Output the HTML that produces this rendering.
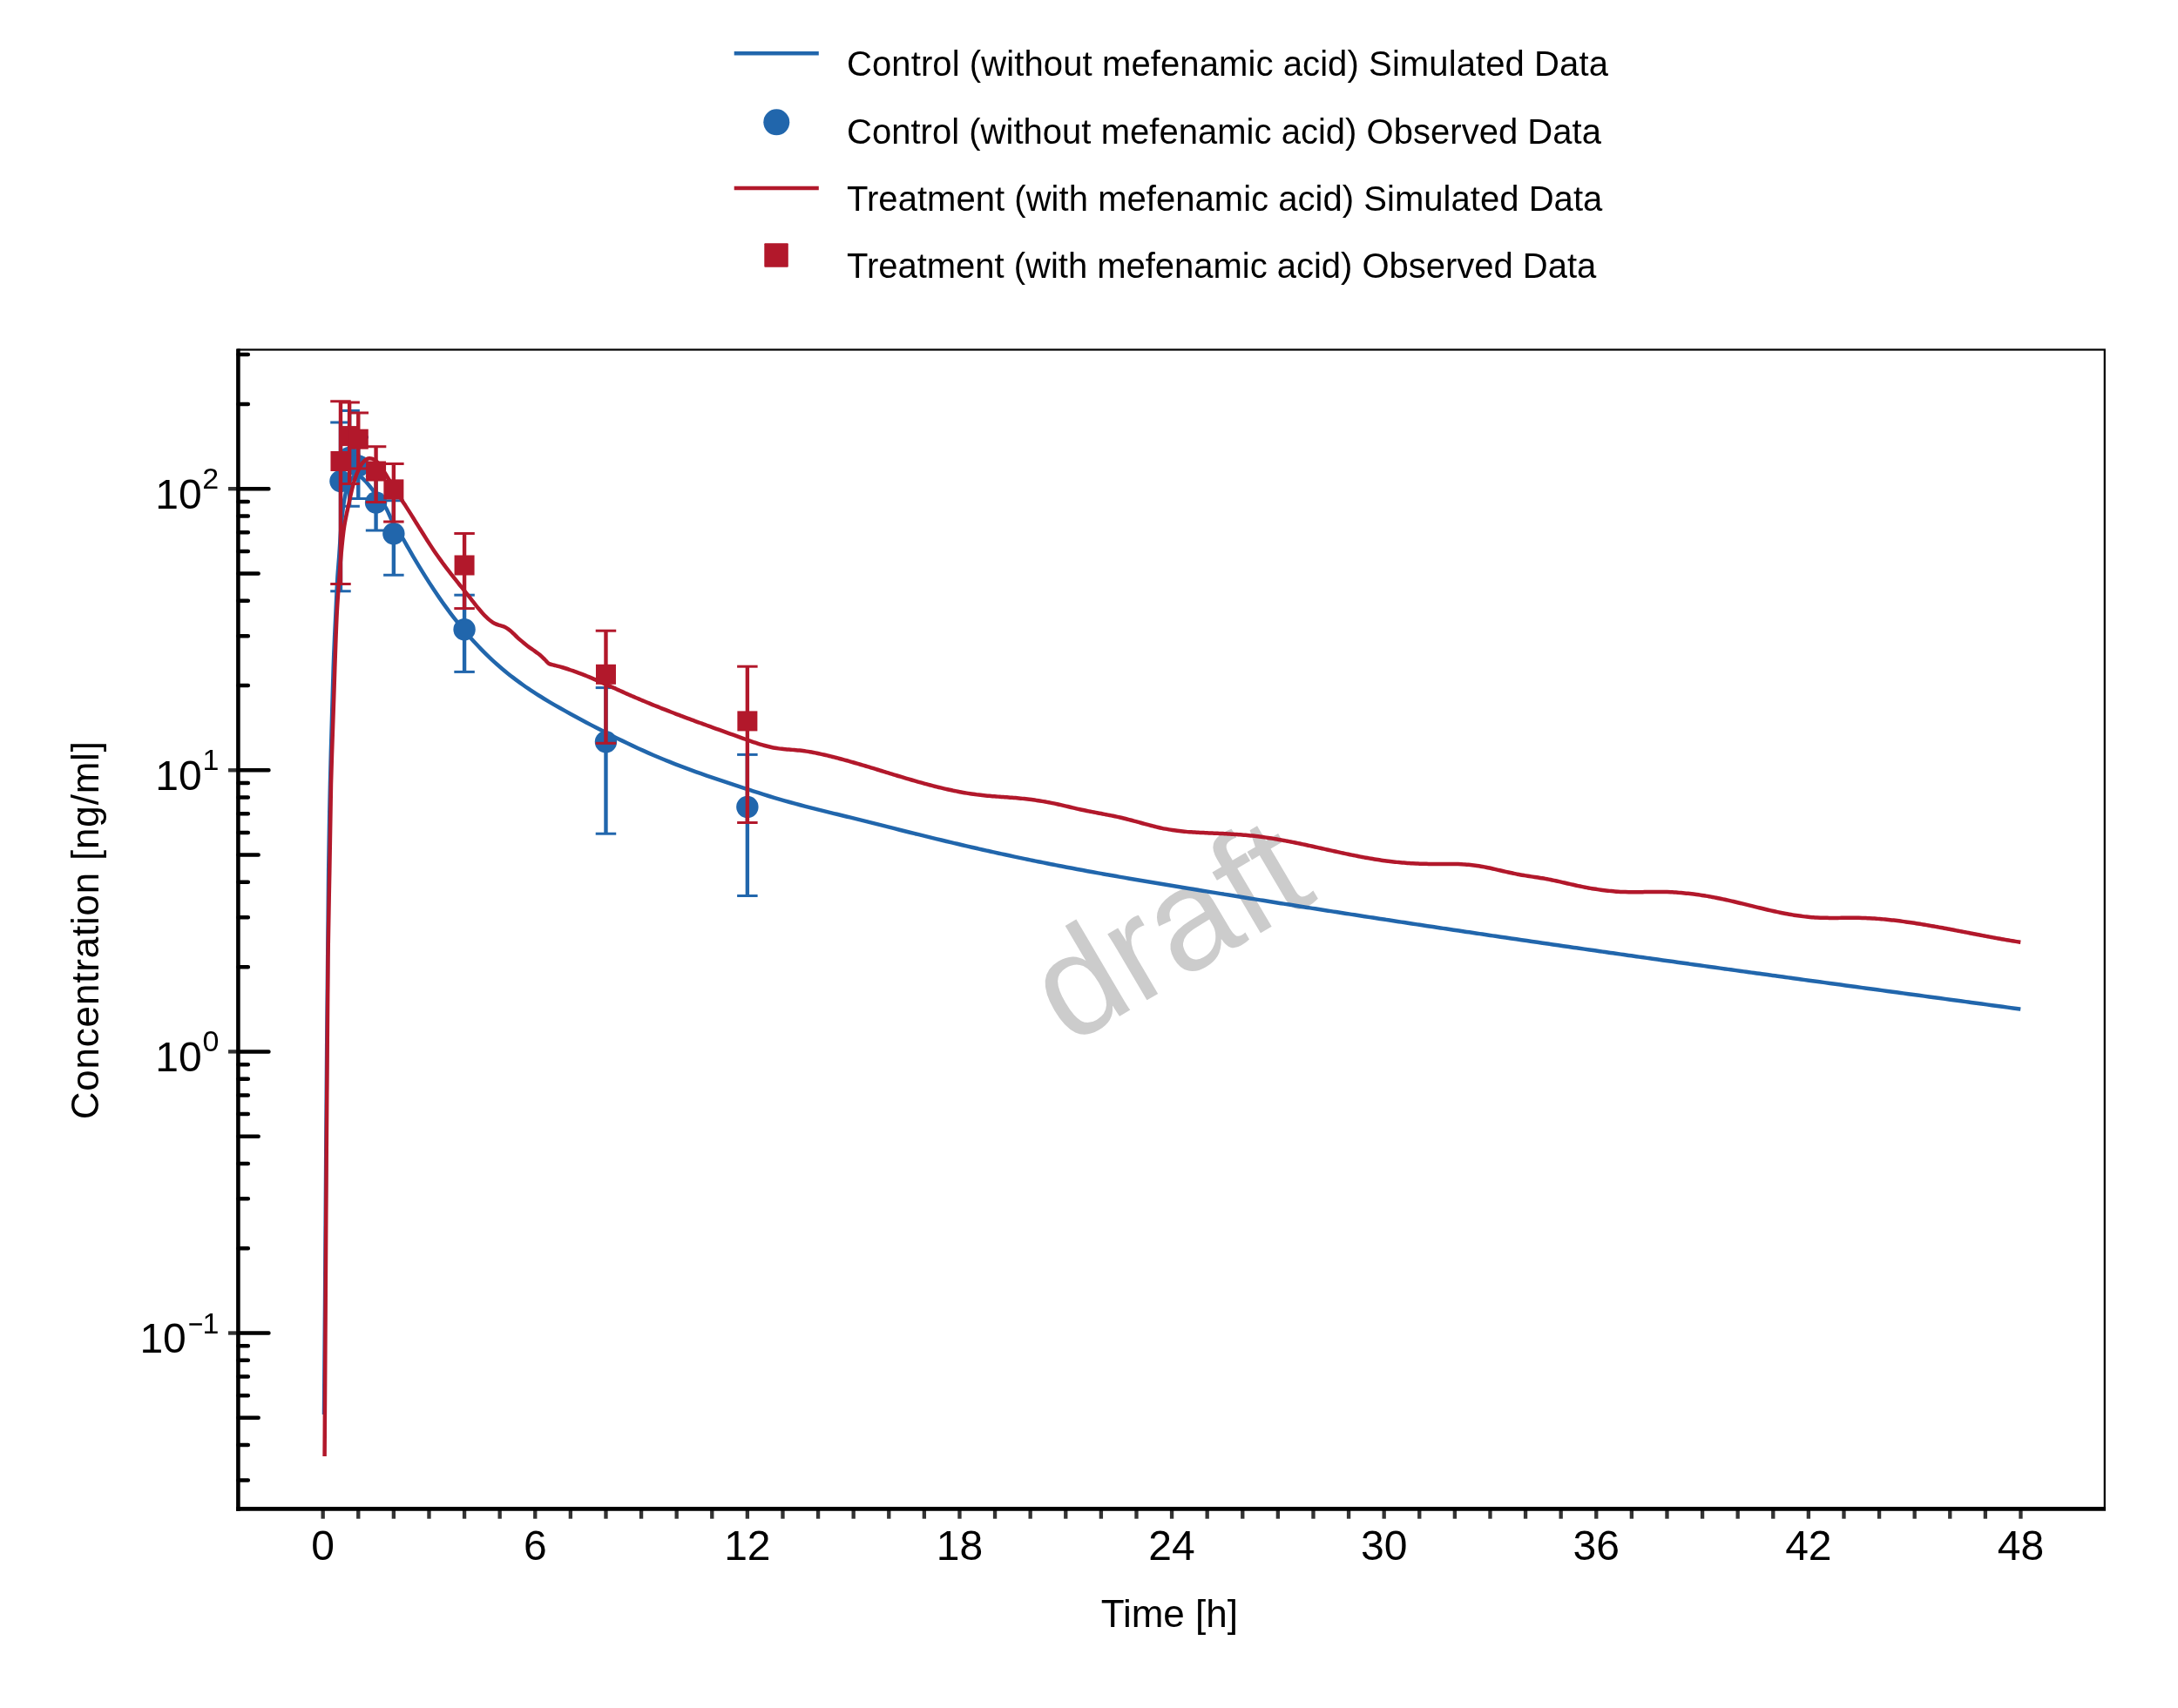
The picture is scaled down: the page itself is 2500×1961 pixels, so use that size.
<!DOCTYPE html><html><head><meta charset="utf-8"><title>Concentration-time profile</title><style>html,body{margin:0;padding:0;background:#fff;overflow:hidden}svg{display:block;will-change:transform}</style></head><body>
<svg xmlns="http://www.w3.org/2000/svg" width="2500" height="1961" viewBox="0 0 2500 1961" font-family="'Liberation Sans', sans-serif">
<rect width="2500" height="1961" fill="#fff"/>
<line x1="842.7" y1="61.3" x2="939.8" y2="61.3" stroke="#2166AC" stroke-width="4.6"/>
<circle cx="891.3" cy="140.3" r="15" fill="#2166AC"/>
<line x1="842.7" y1="216" x2="939.8" y2="216" stroke="#B2182B" stroke-width="4.6"/>
<rect x="877.3" y="279.2" width="27.5" height="27.5" rx="1" fill="#B2182B"/>
<g font-size="40" fill="#000">
<text x="972" y="86.90" textLength="873.9" lengthAdjust="spacing">Control (without mefenamic acid) Simulated Data</text>
<text x="972" y="165.00" textLength="865.9" lengthAdjust="spacing">Control (without mefenamic acid) Observed Data</text>
<text x="972" y="241.80" textLength="867.3" lengthAdjust="spacing">Treatment (with mefenamic acid) Simulated Data</text>
<text x="972" y="318.85" textLength="860.3" lengthAdjust="spacing">Treatment (with mefenamic acid) Observed Data</text>
</g>
<text x="1226.4" y="1201.3" transform="rotate(-30.5 1226.4 1201.3)" font-size="167" fill="#cccccc">draft</text>
<rect x="273.4" y="401.5" width="2142.40" height="1330.90" fill="none" stroke="#000" stroke-width="2.2"/>
<rect x="368.50" y="1732.4" width="4.34" height="11.3" fill="#333333"/>
<rect x="409.10" y="1732.4" width="4.34" height="11.3" fill="#333333"/>
<rect x="449.70" y="1732.4" width="4.34" height="11.3" fill="#333333"/>
<rect x="490.30" y="1732.4" width="4.34" height="11.3" fill="#333333"/>
<rect x="530.90" y="1732.4" width="4.34" height="11.3" fill="#333333"/>
<rect x="571.50" y="1732.4" width="4.34" height="11.3" fill="#333333"/>
<rect x="612.10" y="1732.4" width="4.34" height="11.3" fill="#333333"/>
<rect x="652.70" y="1732.4" width="4.34" height="11.3" fill="#333333"/>
<rect x="693.30" y="1732.4" width="4.34" height="11.3" fill="#333333"/>
<rect x="733.90" y="1732.4" width="4.34" height="11.3" fill="#333333"/>
<rect x="774.50" y="1732.4" width="4.34" height="11.3" fill="#333333"/>
<rect x="815.10" y="1732.4" width="4.34" height="11.3" fill="#333333"/>
<rect x="855.70" y="1732.4" width="4.34" height="11.3" fill="#333333"/>
<rect x="896.30" y="1732.4" width="4.34" height="11.3" fill="#333333"/>
<rect x="936.90" y="1732.4" width="4.34" height="11.3" fill="#333333"/>
<rect x="977.50" y="1732.4" width="4.34" height="11.3" fill="#333333"/>
<rect x="1018.10" y="1732.4" width="4.34" height="11.3" fill="#333333"/>
<rect x="1058.70" y="1732.4" width="4.34" height="11.3" fill="#333333"/>
<rect x="1099.30" y="1732.4" width="4.34" height="11.3" fill="#333333"/>
<rect x="1139.90" y="1732.4" width="4.34" height="11.3" fill="#333333"/>
<rect x="1180.50" y="1732.4" width="4.34" height="11.3" fill="#333333"/>
<rect x="1221.10" y="1732.4" width="4.34" height="11.3" fill="#333333"/>
<rect x="1261.70" y="1732.4" width="4.34" height="11.3" fill="#333333"/>
<rect x="1302.30" y="1732.4" width="4.34" height="11.3" fill="#333333"/>
<rect x="1342.90" y="1732.4" width="4.34" height="11.3" fill="#333333"/>
<rect x="1383.50" y="1732.4" width="4.34" height="11.3" fill="#333333"/>
<rect x="1424.10" y="1732.4" width="4.34" height="11.3" fill="#333333"/>
<rect x="1464.70" y="1732.4" width="4.34" height="11.3" fill="#333333"/>
<rect x="1505.30" y="1732.4" width="4.34" height="11.3" fill="#333333"/>
<rect x="1545.90" y="1732.4" width="4.34" height="11.3" fill="#333333"/>
<rect x="1586.50" y="1732.4" width="4.34" height="11.3" fill="#333333"/>
<rect x="1627.10" y="1732.4" width="4.34" height="11.3" fill="#333333"/>
<rect x="1667.70" y="1732.4" width="4.34" height="11.3" fill="#333333"/>
<rect x="1708.30" y="1732.4" width="4.34" height="11.3" fill="#333333"/>
<rect x="1748.90" y="1732.4" width="4.34" height="11.3" fill="#333333"/>
<rect x="1789.50" y="1732.4" width="4.34" height="11.3" fill="#333333"/>
<rect x="1830.10" y="1732.4" width="4.34" height="11.3" fill="#333333"/>
<rect x="1870.70" y="1732.4" width="4.34" height="11.3" fill="#333333"/>
<rect x="1911.30" y="1732.4" width="4.34" height="11.3" fill="#333333"/>
<rect x="1951.90" y="1732.4" width="4.34" height="11.3" fill="#333333"/>
<rect x="1992.50" y="1732.4" width="4.34" height="11.3" fill="#333333"/>
<rect x="2033.10" y="1732.4" width="4.34" height="11.3" fill="#333333"/>
<rect x="2073.70" y="1732.4" width="4.34" height="11.3" fill="#333333"/>
<rect x="2114.30" y="1732.4" width="4.34" height="11.3" fill="#333333"/>
<rect x="2154.90" y="1732.4" width="4.34" height="11.3" fill="#333333"/>
<rect x="2195.50" y="1732.4" width="4.34" height="11.3" fill="#333333"/>
<rect x="2236.10" y="1732.4" width="4.34" height="11.3" fill="#333333"/>
<rect x="2276.70" y="1732.4" width="4.34" height="11.3" fill="#333333"/>
<rect x="2317.30" y="1732.4" width="4.34" height="11.3" fill="#333333"/>
<rect x="262" y="1528.33" width="11.4" height="4.34" fill="#333333"/>
<rect x="262" y="1205.23" width="11.4" height="4.34" fill="#333333"/>
<rect x="262" y="882.13" width="11.4" height="4.34" fill="#333333"/>
<rect x="262" y="559.03" width="11.4" height="4.34" fill="#333333"/>
<path d="M273.4,1699.44H284.85M273.4,1659.07H284.85M273.4,1627.76H296.65M273.4,1602.18H284.85M273.4,1580.55H284.85M273.4,1561.81H284.85M273.4,1545.28H284.85M273.4,1530.50H308.45M273.4,1433.24H284.85M273.4,1376.34H284.85M273.4,1335.97H284.85M273.4,1304.66H296.65M273.4,1279.08H284.85M273.4,1257.45H284.85M273.4,1238.71H284.85M273.4,1222.18H284.85M273.4,1207.40H308.45M273.4,1110.14H284.85M273.4,1053.24H284.85M273.4,1012.87H284.85M273.4,981.56H296.65M273.4,955.98H284.85M273.4,934.35H284.85M273.4,915.61H284.85M273.4,899.08H284.85M273.4,884.30H308.45M273.4,787.04H284.85M273.4,730.14H284.85M273.4,689.77H284.85M273.4,658.46H296.65M273.4,632.88H284.85M273.4,611.25H284.85M273.4,592.51H284.85M273.4,575.98H284.85M273.4,561.20H308.45M273.4,463.94H284.85M273.4,407.04H284.85" stroke="#000" stroke-width="4.5" stroke-linecap="round" fill="none"/>
<line x1="273.4" y1="400.4" x2="273.4" y2="1734.7" stroke="#000" stroke-width="4.6"/>
<line x1="271.1" y1="1732.4" x2="2417" y2="1732.4" stroke="#000" stroke-width="4.6"/>
<g font-size="48" fill="#000" text-anchor="middle">
<text x="370.67" y="1791">0</text>
<text x="614.27" y="1791">6</text>
<text x="857.87" y="1791">12</text>
<text x="1101.47" y="1791">18</text>
<text x="1345.07" y="1791">24</text>
<text x="1588.67" y="1791">30</text>
<text x="1832.27" y="1791">36</text>
<text x="2075.87" y="1791">42</text>
<text x="2319.47" y="1791">48</text>
</g>
<g font-size="48" fill="#000">
<text x="178.2" y="583.70">10</text>
<text x="178.2" y="906.80">10</text>
<text x="178.2" y="1229.90">10</text>
<text x="160.4" y="1553.00">10</text>
</g>
<g font-size="34" fill="#000">
<text x="232.2" y="561.20">2</text>
<text x="232.5" y="884.30">1</text>
<text x="232.6" y="1207.40">0</text>
<text x="232.5" y="1530.50">1</text>
<rect x="217.3" y="1519.25" width="14.6" height="2.5"/>
</g>
<text x="1342.3" y="1868" font-size="44" text-anchor="middle" fill="#000">Time [h]</text>
<text transform="translate(112.8 1067.8) rotate(-90)" x="0" y="0" font-size="44" letter-spacing="0.8" text-anchor="middle" fill="#000">Concentration [ng/ml]</text>
<defs><clipPath id="cp"><rect x="273.4" y="401.5" width="2142.4" height="1330.9"/></clipPath></defs>
<g clip-path="url(#cp)">
<path d="M372.00,1624.00 C372.33,1582.67 372.61,1550.32 373.00,1500.00 C373.60,1421.74 374.43,1289.90 375.20,1200.00 C375.83,1126.60 376.38,1055.23 377.15,1000.00 C377.69,960.95 378.19,933.33 378.95,900.00 C379.71,866.66 380.89,827.45 381.70,800.00 C382.27,780.78 382.61,767.41 383.25,751.00 C383.89,734.42 384.81,716.63 385.55,701.00 C386.20,687.19 386.75,673.15 387.45,662.00 C387.98,653.62 388.52,648.42 389.15,640.00 C389.99,628.65 390.88,611.76 392.00,600.00 C392.89,590.68 393.67,582.50 395.00,575.00 C396.11,568.75 397.19,562.67 399.00,558.00 C400.39,554.41 402.02,551.05 404.00,549.00 C405.49,547.46 407.28,546.21 409.00,546.00 C410.62,545.80 412.36,546.57 414.00,547.50 C416.05,548.66 417.92,550.80 420.00,553.00 C422.64,555.80 425.56,559.95 428.30,563.20 C430.89,566.27 433.57,568.73 436.00,572.00 C438.67,575.60 441.06,579.51 443.50,584.00 C446.39,589.32 448.71,596.25 451.90,602.00 C455.05,607.69 459.53,613.43 462.50,618.34 C464.85,622.22 466.49,625.46 468.50,628.98 C470.49,632.46 472.49,635.91 474.50,639.33 C476.49,642.72 478.49,646.08 480.50,649.40 C482.49,652.69 484.49,655.95 486.50,659.18 C488.49,662.37 490.49,665.53 492.50,668.65 C494.49,671.74 496.49,674.79 498.50,677.81 C500.49,680.79 502.49,683.73 504.50,686.64 C506.49,689.51 508.49,692.35 510.50,695.15 C512.49,697.91 514.49,700.63 516.50,703.32 C518.49,705.97 520.49,708.58 522.50,711.15 C524.49,713.69 526.49,716.20 528.50,718.66 C530.49,721.10 532.49,723.49 534.50,725.85 C536.49,728.18 538.49,730.48 540.50,732.73 C542.49,734.96 544.49,737.15 546.50,739.31 C548.49,741.44 550.49,743.53 552.50,745.59 C554.49,747.62 556.49,749.62 558.50,751.58 C560.49,753.52 562.49,755.42 564.50,757.29 C566.49,759.14 568.49,760.95 570.50,762.74 C572.49,764.50 574.49,766.23 576.50,767.93 C578.49,769.61 580.49,771.26 582.50,772.88 C584.49,774.49 586.49,776.07 588.50,777.62 C590.49,779.16 592.49,780.66 594.50,782.15 C596.49,783.62 598.49,785.06 600.50,786.48 C602.49,787.90 604.49,789.28 606.50,790.65 C608.49,792.00 610.49,793.33 612.50,794.65 C614.49,795.95 616.50,797.24 618.50,798.50 C620.50,799.77 622.50,801.01 624.50,802.23 C626.50,803.45 628.50,804.66 630.50,805.85 C632.50,807.03 634.50,808.20 636.50,809.36 C638.50,810.52 640.50,811.66 642.50,812.79 C644.50,813.92 646.50,815.04 648.50,816.15 C650.50,817.26 652.50,818.36 654.50,819.46 C656.50,820.56 658.50,821.65 660.50,822.73 C662.50,823.82 664.50,824.90 666.50,825.98 C668.50,827.05 670.50,828.12 672.50,829.19 C674.50,830.25 676.50,831.31 678.50,832.37 C680.50,833.42 682.50,834.47 684.50,835.51 C686.50,836.56 688.50,837.59 690.50,838.62 C692.50,839.65 694.50,840.68 696.50,841.69 C698.50,842.71 700.50,843.72 702.50,844.72 C704.50,845.72 706.50,846.72 708.50,847.70 C710.50,848.69 712.50,849.67 714.50,850.64 C716.50,851.62 718.50,852.58 720.50,853.54 C722.50,854.49 724.50,855.44 726.50,856.38 C728.50,857.32 730.50,858.25 732.50,859.17 C734.50,860.09 736.50,861.00 738.50,861.90 C740.50,862.81 742.50,863.70 744.50,864.58 C746.50,865.47 748.50,866.34 750.50,867.21 C752.50,868.07 754.50,868.92 756.50,869.77 C758.50,870.61 760.50,871.44 762.50,872.27 C764.50,873.09 766.50,873.90 768.50,874.70 C770.50,875.50 772.50,876.29 774.50,877.08 C776.50,877.86 778.50,878.63 780.50,879.39 C782.50,880.16 784.50,880.91 786.50,881.66 C788.50,882.41 790.50,883.15 792.50,883.88 C794.50,884.61 796.50,885.34 798.50,886.06 C800.50,886.78 802.50,887.49 804.50,888.19 C806.50,888.90 808.50,889.60 810.50,890.30 C812.50,890.99 814.50,891.68 816.50,892.37 C818.50,893.05 820.50,893.73 822.50,894.41 C824.50,895.09 826.50,895.76 828.50,896.43 C830.50,897.10 832.50,897.77 834.50,898.43 C836.50,899.10 838.50,899.76 840.50,900.42 C842.50,901.08 844.50,901.74 846.50,902.39 C848.50,903.05 850.50,903.71 852.50,904.36 C854.50,905.02 856.50,905.68 858.50,906.33 C860.50,906.98 862.50,907.64 864.50,908.28 C866.50,908.93 868.50,909.58 870.50,910.22 C872.50,910.86 874.50,911.50 876.50,912.13 C878.50,912.76 880.50,913.39 882.50,914.01 C884.50,914.63 886.50,915.24 888.50,915.84 C890.50,916.44 892.50,917.04 894.50,917.62 C896.50,918.21 898.50,918.78 900.50,919.35 C902.50,919.92 904.50,920.48 906.50,921.04 C908.50,921.59 910.50,922.14 912.50,922.68 C914.50,923.22 916.50,923.75 918.50,924.28 C920.50,924.81 922.50,925.33 924.50,925.85 C926.50,926.37 928.50,926.88 930.50,927.39 C932.50,927.90 934.50,928.41 936.50,928.91 C938.50,929.41 940.50,929.91 942.50,930.40 C944.50,930.90 946.50,931.39 948.50,931.88 C950.50,932.37 952.50,932.85 954.50,933.34 C956.50,933.83 958.50,934.31 960.50,934.80 C962.50,935.28 964.50,935.76 966.50,936.25 C968.50,936.73 970.50,937.21 972.50,937.70 C974.50,938.18 976.50,938.67 978.50,939.15 C980.50,939.64 982.50,940.13 984.50,940.62 C986.50,941.11 988.50,941.60 990.50,942.09 C992.50,942.59 994.50,943.09 996.50,943.59 C998.50,944.09 1000.50,944.59 1002.50,945.09 C1004.50,945.60 1006.50,946.10 1008.50,946.61 C1010.50,947.12 1012.50,947.63 1014.50,948.14 C1016.50,948.64 1018.50,949.15 1020.50,949.66 C1022.50,950.17 1024.50,950.68 1026.50,951.18 C1028.50,951.69 1030.50,952.20 1032.50,952.70 C1034.50,953.20 1036.50,953.71 1038.50,954.21 C1040.50,954.71 1042.50,955.21 1044.50,955.71 C1046.50,956.20 1048.50,956.70 1050.50,957.20 C1052.50,957.69 1054.50,958.19 1056.50,958.68 C1058.50,959.17 1060.50,959.66 1062.50,960.15 C1064.50,960.64 1066.50,961.13 1068.50,961.62 C1070.50,962.10 1072.50,962.59 1074.50,963.07 C1076.50,963.56 1078.50,964.04 1080.50,964.52 C1082.50,965.00 1084.50,965.48 1086.50,965.95 C1088.50,966.43 1090.50,966.91 1092.50,967.38 C1094.50,967.85 1096.50,968.33 1098.50,968.80 C1100.50,969.27 1102.50,969.73 1104.50,970.20 C1106.50,970.67 1108.50,971.13 1110.50,971.59 C1112.50,972.06 1114.50,972.52 1116.50,972.98 C1118.50,973.43 1120.50,973.89 1122.50,974.35 C1124.50,974.80 1126.50,975.25 1128.50,975.70 C1130.50,976.16 1132.50,976.60 1134.50,977.05 C1136.50,977.50 1138.50,977.94 1140.50,978.39 C1142.50,978.83 1144.50,979.27 1146.50,979.71 C1148.50,980.15 1150.50,980.58 1152.50,981.02 C1154.50,981.45 1156.50,981.88 1158.50,982.31 C1160.50,982.74 1162.50,983.17 1164.50,983.59 C1166.50,984.02 1168.50,984.44 1170.50,984.86 C1172.50,985.28 1174.50,985.70 1176.50,986.12 C1178.50,986.53 1180.50,986.95 1182.50,987.36 C1184.50,987.77 1186.50,988.18 1188.50,988.59 C1190.50,988.99 1192.50,989.40 1194.50,989.80 C1196.50,990.20 1198.50,990.60 1200.50,991.00 C1202.50,991.40 1204.50,991.80 1206.50,992.19 C1208.50,992.58 1210.50,992.98 1212.50,993.37 C1214.50,993.76 1216.50,994.14 1218.50,994.53 C1220.50,994.92 1222.50,995.30 1224.50,995.68 C1226.50,996.06 1228.50,996.44 1230.50,996.82 C1232.50,997.20 1234.50,997.58 1236.50,997.95 C1238.50,998.33 1240.50,998.70 1242.50,999.07 C1244.50,999.44 1246.50,999.81 1248.50,1000.18 C1250.50,1000.54 1252.50,1000.91 1254.50,1001.27 C1256.50,1001.64 1258.50,1002.00 1260.50,1002.36 C1262.50,1002.72 1264.50,1003.08 1266.50,1003.44 C1268.50,1003.79 1270.50,1004.15 1272.50,1004.50 C1274.50,1004.86 1276.50,1005.21 1278.50,1005.56 C1280.50,1005.91 1282.50,1006.26 1284.50,1006.61 C1286.50,1006.96 1288.50,1007.30 1290.50,1007.65 C1292.50,1008.00 1294.50,1008.34 1296.50,1008.68 C1298.50,1009.03 1300.50,1009.37 1302.50,1009.71 C1304.50,1010.05 1306.50,1010.39 1308.50,1010.73 C1310.50,1011.07 1312.50,1011.40 1314.50,1011.74 C1316.50,1012.08 1318.50,1012.42 1320.50,1012.75 C1322.50,1013.09 1324.50,1013.42 1326.50,1013.76 C1328.50,1014.09 1330.50,1014.42 1332.50,1014.76 C1334.50,1015.09 1336.50,1015.42 1338.50,1015.75 C1340.50,1016.09 1342.50,1016.42 1344.50,1016.75 C1346.50,1017.08 1348.50,1017.41 1350.50,1017.74 C1352.50,1018.07 1354.50,1018.40 1356.50,1018.73 C1358.50,1019.06 1360.50,1019.39 1362.50,1019.72 C1364.50,1020.05 1366.50,1020.38 1368.50,1020.71 C1370.50,1021.04 1372.50,1021.37 1374.50,1021.69 C1376.50,1022.02 1378.50,1022.35 1380.50,1022.68 C1382.50,1023.00 1384.50,1023.33 1386.50,1023.66 C1388.50,1023.98 1390.50,1024.31 1392.50,1024.64 C1394.50,1024.96 1396.50,1025.29 1398.50,1025.61 C1400.50,1025.94 1402.50,1026.26 1404.50,1026.59 C1406.50,1026.91 1408.50,1027.23 1410.50,1027.56 C1412.50,1027.88 1414.50,1028.20 1416.50,1028.53 C1418.50,1028.85 1420.50,1029.17 1422.50,1029.50 C1424.50,1029.82 1426.50,1030.14 1428.50,1030.46 C1430.50,1030.78 1432.50,1031.10 1434.50,1031.42 C1436.50,1031.75 1438.50,1032.07 1440.50,1032.39 C1442.50,1032.71 1444.50,1033.03 1446.50,1033.35 C1448.50,1033.67 1450.50,1033.99 1452.50,1034.31 C1454.50,1034.62 1456.50,1034.94 1458.50,1035.26 C1460.50,1035.58 1462.50,1035.90 1464.50,1036.22 C1466.50,1036.53 1468.50,1036.85 1470.50,1037.17 C1472.50,1037.49 1474.50,1037.80 1476.50,1038.12 C1478.50,1038.44 1480.50,1038.75 1482.50,1039.07 C1484.50,1039.39 1486.50,1039.70 1488.50,1040.02 C1490.50,1040.33 1492.50,1040.65 1494.50,1040.96 C1496.50,1041.28 1498.50,1041.59 1500.50,1041.91 C1502.50,1042.22 1504.50,1042.54 1506.50,1042.85 C1508.50,1043.16 1510.50,1043.48 1512.50,1043.79 C1514.50,1044.10 1516.50,1044.42 1518.50,1044.73 C1520.50,1045.04 1522.50,1045.35 1524.50,1045.67 C1526.50,1045.98 1528.50,1046.29 1530.50,1046.60 C1532.50,1046.91 1534.50,1047.23 1536.50,1047.54 C1538.50,1047.85 1540.50,1048.16 1542.50,1048.47 C1544.50,1048.78 1546.50,1049.09 1548.50,1049.40 C1550.50,1049.71 1552.50,1050.02 1554.50,1050.33 C1556.50,1050.64 1558.50,1050.95 1560.50,1051.26 C1562.50,1051.56 1564.50,1051.87 1566.50,1052.18 C1568.50,1052.49 1570.50,1052.80 1572.50,1053.10 C1574.50,1053.41 1576.50,1053.72 1578.50,1054.03 C1580.50,1054.33 1582.50,1054.64 1584.50,1054.95 C1586.50,1055.25 1588.50,1055.56 1590.50,1055.87 C1592.50,1056.17 1594.50,1056.48 1596.50,1056.78 C1598.50,1057.09 1600.50,1057.39 1602.50,1057.70 C1604.50,1058.00 1606.50,1058.31 1608.50,1058.61 C1610.50,1058.92 1612.50,1059.22 1614.50,1059.53 C1616.50,1059.83 1618.50,1060.13 1620.50,1060.44 C1622.50,1060.74 1624.50,1061.04 1626.50,1061.35 C1628.50,1061.65 1630.50,1061.95 1632.50,1062.25 C1634.50,1062.56 1636.50,1062.86 1638.50,1063.16 C1640.50,1063.46 1642.50,1063.76 1644.50,1064.06 C1646.50,1064.37 1648.50,1064.67 1650.50,1064.97 C1652.50,1065.27 1654.50,1065.57 1656.50,1065.87 C1658.50,1066.17 1660.50,1066.47 1662.50,1066.77 C1664.50,1067.07 1666.50,1067.37 1668.50,1067.67 C1670.50,1067.97 1672.50,1068.27 1674.50,1068.56 C1676.50,1068.86 1678.50,1069.16 1680.50,1069.46 C1682.50,1069.76 1684.50,1070.05 1686.50,1070.35 C1688.50,1070.65 1690.50,1070.95 1692.50,1071.24 C1694.50,1071.54 1696.50,1071.84 1698.50,1072.14 C1700.50,1072.43 1702.50,1072.73 1704.50,1073.02 C1706.50,1073.32 1708.50,1073.62 1710.50,1073.91 C1712.50,1074.21 1714.50,1074.50 1716.50,1074.80 C1718.50,1075.09 1720.50,1075.39 1722.50,1075.68 C1724.50,1075.98 1726.50,1076.27 1728.50,1076.56 C1730.50,1076.86 1732.50,1077.15 1734.50,1077.45 C1736.50,1077.74 1738.50,1078.03 1740.50,1078.33 C1742.50,1078.62 1744.50,1078.91 1746.50,1079.20 C1748.50,1079.50 1750.50,1079.79 1752.50,1080.08 C1754.50,1080.37 1756.50,1080.67 1758.50,1080.96 C1760.50,1081.25 1762.50,1081.54 1764.50,1081.83 C1766.50,1082.12 1768.50,1082.41 1770.50,1082.70 C1772.50,1082.99 1774.50,1083.28 1776.50,1083.57 C1778.50,1083.86 1780.50,1084.15 1782.50,1084.44 C1784.50,1084.73 1786.50,1085.02 1788.50,1085.31 C1790.50,1085.60 1792.50,1085.89 1794.50,1086.18 C1796.50,1086.47 1798.50,1086.76 1800.50,1087.04 C1802.50,1087.33 1804.50,1087.62 1806.50,1087.91 C1808.50,1088.20 1810.50,1088.48 1812.50,1088.77 C1814.50,1089.06 1816.50,1089.35 1818.50,1089.63 C1820.50,1089.92 1822.50,1090.21 1824.50,1090.49 C1826.50,1090.78 1828.50,1091.07 1830.50,1091.35 C1832.50,1091.64 1834.50,1091.92 1836.50,1092.21 C1838.50,1092.50 1840.50,1092.78 1842.50,1093.07 C1844.50,1093.35 1846.50,1093.64 1848.50,1093.92 C1850.50,1094.21 1852.50,1094.49 1854.50,1094.78 C1856.50,1095.06 1858.50,1095.34 1860.50,1095.63 C1862.50,1095.91 1864.50,1096.20 1866.50,1096.48 C1868.50,1096.76 1870.50,1097.05 1872.50,1097.33 C1874.50,1097.61 1876.50,1097.90 1878.50,1098.18 C1880.50,1098.46 1882.50,1098.75 1884.50,1099.03 C1886.50,1099.31 1888.50,1099.59 1890.50,1099.88 C1892.50,1100.16 1894.50,1100.44 1896.50,1100.72 C1898.50,1101.00 1900.50,1101.28 1902.50,1101.57 C1904.50,1101.85 1906.50,1102.13 1908.50,1102.41 C1910.50,1102.69 1912.50,1102.97 1914.50,1103.25 C1916.50,1103.53 1918.50,1103.81 1920.50,1104.09 C1922.50,1104.37 1924.50,1104.66 1926.50,1104.94 C1928.50,1105.22 1930.50,1105.50 1932.50,1105.78 C1934.50,1106.05 1936.50,1106.33 1938.50,1106.61 C1940.50,1106.89 1942.50,1107.17 1944.50,1107.45 C1946.50,1107.73 1948.50,1108.01 1950.50,1108.29 C1952.50,1108.57 1954.50,1108.85 1956.50,1109.12 C1958.50,1109.40 1960.50,1109.68 1962.50,1109.96 C1964.50,1110.24 1966.50,1110.52 1968.50,1110.79 C1970.50,1111.07 1972.50,1111.35 1974.50,1111.63 C1976.50,1111.90 1978.50,1112.18 1980.50,1112.46 C1982.50,1112.74 1984.50,1113.01 1986.50,1113.29 C1988.50,1113.57 1990.50,1113.85 1992.50,1114.12 C1994.50,1114.40 1996.50,1114.68 1998.50,1114.95 C2000.50,1115.23 2002.50,1115.50 2004.50,1115.78 C2006.50,1116.06 2008.50,1116.33 2010.50,1116.61 C2012.50,1116.89 2014.50,1117.16 2016.50,1117.44 C2018.50,1117.71 2020.50,1117.99 2022.50,1118.26 C2024.50,1118.54 2026.50,1118.82 2028.50,1119.09 C2030.50,1119.37 2032.50,1119.64 2034.50,1119.92 C2036.50,1120.19 2038.50,1120.47 2040.50,1120.74 C2042.50,1121.02 2044.50,1121.29 2046.50,1121.56 C2048.50,1121.84 2050.50,1122.11 2052.50,1122.39 C2054.50,1122.66 2056.50,1122.94 2058.50,1123.21 C2060.50,1123.49 2062.50,1123.76 2064.50,1124.03 C2066.50,1124.31 2068.50,1124.58 2070.50,1124.86 C2072.50,1125.13 2074.50,1125.40 2076.50,1125.68 C2078.50,1125.95 2080.50,1126.22 2082.50,1126.50 C2084.50,1126.77 2086.50,1127.04 2088.50,1127.32 C2090.50,1127.59 2092.50,1127.86 2094.50,1128.14 C2096.50,1128.41 2098.50,1128.68 2100.50,1128.96 C2102.50,1129.23 2104.50,1129.50 2106.50,1129.77 C2108.50,1130.05 2110.50,1130.32 2112.50,1130.59 C2114.50,1130.86 2116.50,1131.14 2118.50,1131.41 C2120.50,1131.68 2122.50,1131.95 2124.50,1132.23 C2126.50,1132.50 2128.50,1132.77 2130.50,1133.04 C2132.50,1133.32 2134.50,1133.59 2136.50,1133.86 C2138.50,1134.13 2140.50,1134.40 2142.50,1134.68 C2144.50,1134.95 2146.50,1135.22 2148.50,1135.49 C2150.50,1135.76 2152.50,1136.03 2154.50,1136.31 C2156.50,1136.58 2158.50,1136.85 2160.50,1137.12 C2162.50,1137.39 2164.50,1137.66 2166.50,1137.93 C2168.50,1138.21 2170.50,1138.48 2172.50,1138.75 C2174.50,1139.02 2176.50,1139.29 2178.50,1139.56 C2180.50,1139.83 2182.50,1140.11 2184.50,1140.38 C2186.50,1140.65 2188.50,1140.92 2190.50,1141.19 C2192.50,1141.46 2194.50,1141.73 2196.50,1142.00 C2198.50,1142.27 2200.50,1142.54 2202.50,1142.82 C2204.50,1143.09 2206.50,1143.36 2208.50,1143.63 C2210.50,1143.90 2212.50,1144.17 2214.50,1144.44 C2216.50,1144.71 2218.50,1144.98 2220.50,1145.25 C2222.50,1145.52 2224.50,1145.79 2226.50,1146.07 C2228.50,1146.34 2230.50,1146.61 2232.50,1146.88 C2234.50,1147.15 2236.50,1147.42 2238.50,1147.69 C2240.50,1147.96 2242.50,1148.23 2244.50,1148.50 C2246.50,1148.77 2248.50,1149.04 2250.50,1149.31 C2252.50,1149.58 2254.50,1149.85 2256.50,1150.12 C2258.50,1150.39 2260.50,1150.67 2262.50,1150.94 C2264.50,1151.21 2266.50,1151.48 2268.50,1151.75 C2270.50,1152.02 2272.50,1152.29 2274.50,1152.56 C2276.50,1152.83 2278.50,1153.10 2280.50,1153.37 C2282.50,1153.64 2284.50,1153.91 2286.50,1154.18 C2288.50,1154.45 2290.50,1154.72 2292.50,1154.99 C2294.50,1155.26 2296.50,1155.53 2298.50,1155.81 C2300.50,1156.08 2302.50,1156.35 2304.50,1156.62 C2306.50,1156.89 2308.50,1157.16 2310.50,1157.43 C2312.50,1157.70 2314.88,1158.02 2316.50,1158.24 C2317.61,1158.39 2318.37,1158.49 2319.30,1158.62" fill="none" stroke="#2166AC" stroke-width="4.5" stroke-linejoin="round"/>
<line x1="390.97" y1="485.10" x2="390.97" y2="678.70" stroke="#2166AC" stroke-width="4.4"/>
<line x1="379.22" y1="485.10" x2="402.72" y2="485.10" stroke="#2166AC" stroke-width="3"/>
<line x1="379.22" y1="678.70" x2="402.72" y2="678.70" stroke="#2166AC" stroke-width="3"/>
<line x1="401.12" y1="471.40" x2="401.12" y2="581.30" stroke="#2166AC" stroke-width="4.4"/>
<line x1="389.37" y1="471.40" x2="412.87" y2="471.40" stroke="#2166AC" stroke-width="3"/>
<line x1="389.37" y1="581.30" x2="412.87" y2="581.30" stroke="#2166AC" stroke-width="3"/>
<line x1="411.27" y1="502.00" x2="411.27" y2="572.40" stroke="#2166AC" stroke-width="4.4"/>
<line x1="399.52" y1="502.00" x2="423.02" y2="502.00" stroke="#2166AC" stroke-width="3"/>
<line x1="399.52" y1="572.40" x2="423.02" y2="572.40" stroke="#2166AC" stroke-width="3"/>
<line x1="431.57" y1="547.00" x2="431.57" y2="609.00" stroke="#2166AC" stroke-width="4.4"/>
<line x1="419.82" y1="547.00" x2="443.32" y2="547.00" stroke="#2166AC" stroke-width="3"/>
<line x1="419.82" y1="609.00" x2="443.32" y2="609.00" stroke="#2166AC" stroke-width="3"/>
<line x1="451.87" y1="574.80" x2="451.87" y2="660.30" stroke="#2166AC" stroke-width="4.4"/>
<line x1="440.12" y1="574.80" x2="463.62" y2="574.80" stroke="#2166AC" stroke-width="3"/>
<line x1="440.12" y1="660.30" x2="463.62" y2="660.30" stroke="#2166AC" stroke-width="3"/>
<line x1="533.07" y1="683.20" x2="533.07" y2="771.40" stroke="#2166AC" stroke-width="4.4"/>
<line x1="521.32" y1="683.20" x2="544.82" y2="683.20" stroke="#2166AC" stroke-width="3"/>
<line x1="521.32" y1="771.40" x2="544.82" y2="771.40" stroke="#2166AC" stroke-width="3"/>
<line x1="695.47" y1="789.60" x2="695.47" y2="957.20" stroke="#2166AC" stroke-width="4.4"/>
<line x1="683.72" y1="789.60" x2="707.22" y2="789.60" stroke="#2166AC" stroke-width="3"/>
<line x1="683.72" y1="957.20" x2="707.22" y2="957.20" stroke="#2166AC" stroke-width="3"/>
<line x1="857.87" y1="866.40" x2="857.87" y2="1028.50" stroke="#2166AC" stroke-width="4.4"/>
<line x1="846.12" y1="866.40" x2="869.62" y2="866.40" stroke="#2166AC" stroke-width="3"/>
<line x1="846.12" y1="1028.50" x2="869.62" y2="1028.50" stroke="#2166AC" stroke-width="3"/>
<circle cx="390.97" cy="552.50" r="12.7" fill="#2166AC"/>
<circle cx="401.12" cy="525.50" r="12.7" fill="#2166AC"/>
<circle cx="411.27" cy="535.00" r="12.7" fill="#2166AC"/>
<circle cx="431.57" cy="576.90" r="12.7" fill="#2166AC"/>
<circle cx="451.87" cy="612.70" r="12.7" fill="#2166AC"/>
<circle cx="533.07" cy="722.80" r="12.7" fill="#2166AC"/>
<circle cx="695.47" cy="851.70" r="12.7" fill="#2166AC"/>
<circle cx="857.87" cy="926.50" r="12.7" fill="#2166AC"/>
<path d="M372.60,1672.00 C372.83,1634.67 372.97,1610.00 373.30,1560.00 C373.97,1458.68 375.28,1197.51 376.50,1100.00 C377.07,1054.53 377.72,1033.33 378.30,1000.00 C378.88,966.67 379.18,933.33 380.00,900.00 C380.83,866.66 382.36,827.45 383.25,800.00 C383.88,780.78 384.25,767.41 384.85,751.00 C385.45,734.42 386.00,716.63 386.85,701.00 C387.60,687.19 388.73,673.15 389.55,662.00 C390.16,653.62 390.48,648.22 391.25,640.00 C392.23,629.46 393.48,614.99 395.20,604.00 C396.67,594.59 398.77,586.04 400.50,578.00 C402.00,571.02 403.21,564.62 404.90,558.50 C406.44,552.92 408.04,547.45 410.10,542.70 C411.92,538.50 413.92,534.12 416.30,531.30 C418.14,529.12 420.12,527.05 422.40,526.50 C424.68,525.95 427.64,526.65 430.00,528.00 C432.94,529.68 435.47,533.60 438.00,537.00 C440.84,540.83 443.29,545.78 446.00,550.00 C448.63,554.10 451.42,557.91 454.00,562.00 C456.62,566.14 459.44,571.23 461.60,574.69 C463.12,577.12 464.27,578.78 465.60,580.85 C466.94,582.93 468.27,585.03 469.60,587.14 C470.94,589.26 472.27,591.39 473.60,593.52 C474.94,595.66 476.27,597.81 477.60,599.96 C478.93,602.10 480.27,604.25 481.60,606.40 C482.93,608.54 484.26,610.68 485.60,612.81 C486.93,614.93 488.26,617.04 489.60,619.14 C490.93,621.22 492.26,623.30 493.60,625.36 C494.93,627.39 496.26,629.42 497.60,631.41 C498.93,633.39 500.26,635.34 501.60,637.27 C502.93,639.17 504.26,641.05 505.60,642.91 C506.93,644.75 508.26,646.57 509.60,648.37 C510.93,650.16 512.26,651.92 513.60,653.68 C514.93,655.42 516.26,657.14 517.60,658.86 C518.93,660.56 520.26,662.26 521.60,663.94 C522.93,665.63 524.27,667.30 525.60,668.97 C526.93,670.64 528.27,672.29 529.60,673.96 C530.93,675.62 532.27,677.28 533.60,678.94 C534.93,680.61 536.27,682.28 537.60,683.96 C538.94,685.64 540.27,687.33 541.60,689.02 C542.93,690.71 544.26,692.42 545.60,694.10 C546.93,695.76 548.26,697.43 549.60,699.05 C550.92,700.63 552.25,702.21 553.60,703.71 C554.92,705.18 556.24,706.62 557.60,707.96 C558.91,709.26 560.24,710.51 561.60,711.64 C562.91,712.72 564.23,713.74 565.60,714.60 C566.90,715.42 568.24,716.14 569.60,716.70 C570.91,717.24 572.27,717.54 573.60,717.95 C574.93,718.36 576.29,718.65 577.60,719.16 C578.95,719.69 580.30,720.33 581.60,721.11 C582.97,721.92 584.30,722.92 585.60,723.98 C586.97,725.09 588.28,726.40 589.60,727.65 C590.94,728.91 592.26,730.27 593.60,731.53 C594.92,732.78 596.26,733.99 597.60,735.17 C598.92,736.33 600.26,737.45 601.60,738.55 C602.92,739.62 604.26,740.66 605.60,741.68 C606.92,742.68 608.26,743.65 609.60,744.60 C610.93,745.55 612.27,746.45 613.60,747.40 C614.94,748.35 616.28,749.28 617.60,750.30 C618.95,751.34 620.29,752.40 621.60,753.57 C622.96,754.79 624.27,756.16 625.60,757.49 C626.94,758.82 628.16,760.57 629.60,761.53 C630.85,762.37 632.25,762.74 633.60,763.18 C634.92,763.60 636.27,763.79 637.60,764.11 C638.94,764.44 640.27,764.79 641.60,765.15 C642.94,765.51 644.27,765.89 645.60,766.28 C646.94,766.67 648.27,767.08 649.60,767.49 C650.94,767.91 652.27,768.35 653.60,768.79 C654.94,769.23 656.27,769.69 657.60,770.16 C658.94,770.63 660.27,771.11 661.60,771.60 C662.94,772.09 664.27,772.59 665.60,773.10 C666.93,773.61 668.27,774.13 669.60,774.66 C670.93,775.19 672.27,775.72 673.60,776.27 C674.93,776.81 676.27,777.37 677.60,777.92 C678.93,778.48 680.27,779.05 681.60,779.62 C682.93,780.19 684.27,780.77 685.60,781.35 C686.93,781.93 688.27,782.52 689.60,783.11 C690.93,783.69 692.27,784.29 693.60,784.88 C694.93,785.48 696.27,786.08 697.60,786.68 C698.93,787.28 700.27,787.88 701.60,788.49 C702.93,789.09 704.27,789.69 705.60,790.30 C706.93,790.90 708.27,791.50 709.60,792.11 C710.93,792.71 712.27,793.31 713.60,793.91 C714.93,794.51 716.27,795.11 717.60,795.70 C718.93,796.29 720.27,796.88 721.60,797.47 C722.93,798.06 724.27,798.64 725.60,799.22 C726.93,799.80 728.27,800.38 729.60,800.95 C730.93,801.52 732.27,802.09 733.60,802.66 C734.93,803.22 736.27,803.78 737.60,804.34 C738.93,804.90 740.27,805.46 741.60,806.01 C742.93,806.57 744.27,807.12 745.60,807.66 C746.93,808.21 748.27,808.76 749.60,809.30 C750.93,809.84 752.27,810.38 753.60,810.91 C754.93,811.45 756.27,811.98 757.60,812.52 C758.93,813.05 760.27,813.57 761.60,814.10 C762.93,814.63 764.27,815.15 765.60,815.67 C766.93,816.19 768.27,816.71 769.60,817.23 C770.93,817.74 772.27,818.26 773.60,818.77 C774.93,819.28 776.27,819.79 777.60,820.30 C778.93,820.81 780.27,821.32 781.60,821.82 C782.93,822.33 784.27,822.83 785.60,823.33 C786.93,823.83 788.27,824.33 789.60,824.83 C790.93,825.32 792.27,825.82 793.60,826.32 C794.93,826.81 796.27,827.30 797.60,827.80 C798.93,828.29 800.27,828.78 801.60,829.27 C802.93,829.76 804.27,830.24 805.60,830.73 C806.93,831.22 808.27,831.71 809.60,832.19 C810.93,832.68 812.27,833.16 813.60,833.64 C814.93,834.13 816.27,834.61 817.60,835.09 C818.93,835.57 820.27,836.05 821.60,836.53 C822.93,837.02 824.27,837.50 825.60,837.98 C826.93,838.46 828.27,838.93 829.60,839.41 C830.93,839.89 832.27,840.37 833.60,840.85 C834.93,841.33 836.27,841.81 837.60,842.29 C838.93,842.76 840.27,843.24 841.60,843.72 C842.93,844.20 844.27,844.68 845.60,845.16 C846.93,845.64 848.27,846.11 849.60,846.59 C850.93,847.07 852.27,847.55 853.60,848.03 C854.93,848.51 856.27,848.99 857.60,849.47 C858.93,849.95 860.27,850.42 861.60,850.89 C862.93,851.35 864.27,851.82 865.60,852.27 C866.93,852.72 868.26,853.16 869.60,853.59 C870.93,854.02 872.26,854.44 873.60,854.84 C874.93,855.25 876.26,855.63 877.60,856.00 C878.93,856.37 880.26,856.72 881.60,857.05 C882.93,857.38 884.26,857.69 885.60,857.97 C886.93,858.26 888.26,858.52 889.60,858.75 C890.93,858.98 892.27,859.18 893.60,859.37 C894.93,859.55 896.27,859.71 897.60,859.85 C898.93,860.00 900.27,860.12 901.60,860.24 C902.93,860.36 904.27,860.46 905.60,860.57 C906.93,860.68 908.27,860.77 909.60,860.88 C910.93,860.99 912.27,861.09 913.60,861.21 C914.93,861.32 916.27,861.44 917.60,861.58 C918.93,861.73 920.27,861.88 921.60,862.05 C922.93,862.22 924.27,862.41 925.60,862.61 C926.93,862.81 928.27,863.02 929.60,863.25 C930.93,863.47 932.27,863.71 933.60,863.96 C934.93,864.21 936.27,864.48 937.60,864.75 C938.93,865.02 940.27,865.30 941.60,865.59 C942.93,865.88 944.27,866.18 945.60,866.48 C946.93,866.79 948.27,867.10 949.60,867.42 C950.93,867.74 952.27,868.06 953.60,868.39 C954.93,868.72 956.27,869.06 957.60,869.40 C958.93,869.74 960.27,870.08 961.60,870.43 C962.93,870.78 964.27,871.14 965.60,871.49 C966.93,871.85 968.27,872.21 969.60,872.58 C970.93,872.94 972.27,873.31 973.60,873.69 C974.93,874.06 976.27,874.44 977.60,874.82 C978.93,875.20 980.27,875.58 981.60,875.97 C982.93,876.35 984.27,876.74 985.60,877.13 C986.93,877.52 988.27,877.92 989.60,878.31 C990.93,878.71 992.27,879.11 993.60,879.51 C994.93,879.91 996.27,880.31 997.60,880.71 C998.93,881.11 1000.27,881.52 1001.60,881.92 C1002.93,882.33 1004.27,882.74 1005.60,883.14 C1006.93,883.55 1008.27,883.96 1009.60,884.37 C1010.93,884.78 1012.27,885.19 1013.60,885.60 C1014.93,886.01 1016.27,886.42 1017.60,886.82 C1018.93,887.23 1020.27,887.64 1021.60,888.05 C1022.93,888.46 1024.27,888.87 1025.60,889.28 C1026.93,889.68 1028.27,890.09 1029.60,890.49 C1030.93,890.90 1032.27,891.30 1033.60,891.70 C1034.93,892.11 1036.27,892.51 1037.60,892.91 C1038.93,893.30 1040.27,893.70 1041.60,894.10 C1042.93,894.49 1044.27,894.88 1045.60,895.27 C1046.93,895.66 1048.27,896.05 1049.60,896.43 C1050.93,896.82 1052.27,897.20 1053.60,897.58 C1054.93,897.95 1056.27,898.33 1057.60,898.70 C1058.93,899.07 1060.27,899.44 1061.60,899.80 C1062.93,900.17 1064.27,900.53 1065.60,900.88 C1066.93,901.24 1068.27,901.59 1069.60,901.93 C1070.93,902.28 1072.27,902.62 1073.60,902.96 C1074.93,903.30 1076.27,903.63 1077.60,903.96 C1078.93,904.28 1080.27,904.60 1081.60,904.92 C1082.93,905.23 1084.27,905.55 1085.60,905.85 C1086.93,906.15 1088.27,906.45 1089.60,906.74 C1090.93,907.04 1092.27,907.32 1093.60,907.60 C1094.93,907.88 1096.27,908.15 1097.60,908.42 C1098.93,908.68 1100.27,908.94 1101.60,909.19 C1102.93,909.44 1104.27,909.69 1105.60,909.92 C1106.93,910.16 1108.27,910.39 1109.60,910.61 C1110.93,910.83 1112.27,911.04 1113.60,911.24 C1114.93,911.45 1116.27,911.64 1117.60,911.83 C1118.93,912.02 1120.27,912.20 1121.60,912.37 C1122.93,912.54 1124.27,912.70 1125.60,912.85 C1126.93,913.00 1128.27,913.14 1129.60,913.27 C1130.93,913.41 1132.27,913.54 1133.60,913.66 C1134.93,913.78 1136.27,913.89 1137.60,914.00 C1138.93,914.12 1140.27,914.22 1141.60,914.32 C1142.93,914.43 1144.27,914.52 1145.60,914.62 C1146.93,914.72 1148.27,914.81 1149.60,914.91 C1150.93,915.00 1152.27,915.10 1153.60,915.19 C1154.93,915.29 1156.27,915.38 1157.60,915.48 C1158.93,915.58 1160.27,915.68 1161.60,915.79 C1162.93,915.89 1164.27,916.00 1165.60,916.11 C1166.93,916.23 1168.27,916.35 1169.60,916.47 C1170.93,916.60 1172.27,916.73 1173.60,916.87 C1174.93,917.01 1176.27,917.15 1177.60,917.30 C1178.93,917.46 1180.27,917.62 1181.60,917.78 C1182.93,917.95 1184.27,918.12 1185.60,918.31 C1186.93,918.49 1188.27,918.68 1189.60,918.87 C1190.93,919.07 1192.27,919.27 1193.60,919.49 C1194.93,919.70 1196.27,919.92 1197.60,920.15 C1198.93,920.37 1200.27,920.61 1201.60,920.85 C1202.93,921.10 1204.27,921.35 1205.60,921.61 C1206.93,921.87 1208.27,922.14 1209.60,922.42 C1210.93,922.69 1212.27,922.98 1213.60,923.27 C1214.93,923.57 1216.27,923.87 1217.60,924.17 C1218.93,924.48 1220.27,924.79 1221.60,925.10 C1222.93,925.41 1224.27,925.73 1225.60,926.05 C1226.93,926.36 1228.27,926.68 1229.60,926.99 C1230.93,927.31 1232.27,927.62 1233.60,927.93 C1234.93,928.24 1236.27,928.55 1237.60,928.85 C1238.93,929.14 1240.27,929.44 1241.60,929.72 C1242.93,930.01 1244.27,930.29 1245.60,930.56 C1246.93,930.83 1248.27,931.10 1249.60,931.37 C1250.93,931.63 1252.27,931.89 1253.60,932.15 C1254.93,932.40 1256.27,932.66 1257.60,932.91 C1258.93,933.17 1260.27,933.42 1261.60,933.67 C1262.93,933.92 1264.27,934.17 1265.60,934.43 C1266.93,934.68 1268.27,934.94 1269.60,935.20 C1270.93,935.46 1272.27,935.72 1273.60,935.98 C1274.93,936.25 1276.27,936.52 1277.60,936.79 C1278.93,937.07 1280.27,937.35 1281.60,937.64 C1282.93,937.93 1284.27,938.22 1285.60,938.52 C1286.93,938.83 1288.27,939.14 1289.60,939.46 C1290.93,939.79 1292.27,940.12 1293.60,940.46 C1294.93,940.79 1296.27,941.14 1297.60,941.49 C1298.93,941.85 1300.27,942.20 1301.60,942.56 C1302.93,942.92 1304.27,943.29 1305.60,943.66 C1306.93,944.02 1308.27,944.39 1309.60,944.75 C1310.93,945.12 1312.27,945.49 1313.60,945.85 C1314.93,946.21 1316.27,946.57 1317.60,946.93 C1318.93,947.28 1320.27,947.64 1321.60,947.98 C1322.93,948.32 1324.27,948.66 1325.60,948.99 C1326.93,949.32 1328.27,949.64 1329.60,949.95 C1330.93,950.26 1332.27,950.56 1333.60,950.84 C1334.93,951.13 1336.27,951.40 1337.60,951.66 C1338.93,951.92 1340.27,952.16 1341.60,952.39 C1342.93,952.62 1344.27,952.83 1345.60,953.03 C1346.93,953.23 1348.27,953.42 1349.60,953.59 C1350.93,953.77 1352.27,953.93 1353.60,954.09 C1354.93,954.24 1356.27,954.38 1357.60,954.51 C1358.93,954.65 1360.27,954.77 1361.60,954.88 C1362.93,955.00 1364.27,955.10 1365.60,955.20 C1366.93,955.30 1368.27,955.39 1369.60,955.48 C1370.93,955.57 1372.27,955.65 1373.60,955.72 C1374.93,955.80 1376.27,955.86 1377.60,955.93 C1378.93,956.00 1380.27,956.06 1381.60,956.12 C1382.93,956.18 1384.27,956.24 1385.60,956.30 C1386.93,956.35 1388.27,956.41 1389.60,956.46 C1390.93,956.52 1392.27,956.57 1393.60,956.63 C1394.93,956.68 1396.27,956.74 1397.60,956.80 C1398.93,956.86 1400.27,956.92 1401.60,956.99 C1402.93,957.05 1404.27,957.12 1405.60,957.19 C1406.93,957.25 1408.27,957.33 1409.60,957.40 C1410.93,957.48 1412.27,957.56 1413.60,957.64 C1414.93,957.72 1416.27,957.81 1417.60,957.90 C1418.93,957.99 1420.27,958.08 1421.60,958.18 C1422.93,958.28 1424.27,958.38 1425.60,958.49 C1426.93,958.60 1428.27,958.71 1429.60,958.83 C1430.93,958.95 1432.27,959.07 1433.60,959.20 C1434.93,959.33 1436.27,959.47 1437.60,959.61 C1438.93,959.75 1440.27,959.90 1441.60,960.06 C1442.93,960.21 1444.27,960.37 1445.60,960.54 C1446.93,960.71 1448.27,960.88 1449.60,961.06 C1450.93,961.25 1452.27,961.43 1453.60,961.63 C1454.93,961.82 1456.27,962.02 1457.60,962.23 C1458.93,962.44 1460.27,962.65 1461.60,962.87 C1462.93,963.09 1464.27,963.31 1465.60,963.54 C1466.93,963.77 1468.27,964.00 1469.60,964.24 C1470.93,964.48 1472.27,964.72 1473.60,964.97 C1474.93,965.22 1476.27,965.47 1477.60,965.73 C1478.93,965.98 1480.27,966.24 1481.60,966.50 C1482.93,966.77 1484.27,967.04 1485.60,967.31 C1486.93,967.58 1488.27,967.85 1489.60,968.13 C1490.93,968.40 1492.27,968.68 1493.60,968.96 C1494.93,969.25 1496.27,969.53 1497.60,969.82 C1498.93,970.10 1500.27,970.39 1501.60,970.68 C1502.93,970.97 1504.27,971.26 1505.60,971.56 C1506.93,971.85 1508.27,972.14 1509.60,972.44 C1510.93,972.73 1512.27,973.03 1513.60,973.33 C1514.93,973.62 1516.27,973.92 1517.60,974.22 C1518.93,974.52 1520.27,974.81 1521.60,975.11 C1522.93,975.41 1524.27,975.71 1525.60,976.00 C1526.93,976.30 1528.27,976.60 1529.60,976.89 C1530.93,977.19 1532.27,977.48 1533.60,977.77 C1534.93,978.07 1536.27,978.36 1537.60,978.65 C1538.93,978.94 1540.27,979.22 1541.60,979.51 C1542.93,979.80 1544.27,980.08 1545.60,980.36 C1546.93,980.64 1548.27,980.92 1549.60,981.20 C1550.93,981.47 1552.27,981.75 1553.60,982.02 C1554.93,982.29 1556.27,982.55 1557.60,982.82 C1558.93,983.08 1560.27,983.34 1561.60,983.60 C1562.93,983.85 1564.27,984.10 1565.60,984.35 C1566.93,984.60 1568.27,984.84 1569.60,985.08 C1570.93,985.32 1572.27,985.55 1573.60,985.78 C1574.93,986.01 1576.27,986.23 1577.60,986.45 C1578.93,986.66 1580.27,986.88 1581.60,987.08 C1582.93,987.29 1584.27,987.49 1585.60,987.68 C1586.93,987.88 1588.27,988.06 1589.60,988.24 C1590.93,988.43 1592.27,988.60 1593.60,988.77 C1594.93,988.93 1596.27,989.09 1597.60,989.25 C1598.93,989.40 1600.27,989.55 1601.60,989.69 C1602.93,989.83 1604.27,989.96 1605.60,990.09 C1606.93,990.21 1608.27,990.33 1609.60,990.44 C1610.93,990.55 1612.27,990.66 1613.60,990.76 C1614.93,990.86 1616.27,990.95 1617.60,991.04 C1618.93,991.12 1620.27,991.20 1621.60,991.27 C1622.93,991.35 1624.27,991.41 1625.60,991.47 C1626.93,991.53 1628.27,991.59 1629.60,991.64 C1630.93,991.68 1632.27,991.72 1633.60,991.76 C1634.93,991.79 1636.27,991.82 1637.60,991.85 C1638.93,991.87 1640.27,991.89 1641.60,991.90 C1642.93,991.91 1644.27,991.91 1645.60,991.92 C1646.93,991.92 1648.27,991.92 1649.60,991.92 C1650.93,991.91 1652.27,991.91 1653.60,991.90 C1654.93,991.90 1656.27,991.90 1657.60,991.90 C1658.93,991.89 1660.27,991.89 1661.60,991.90 C1662.93,991.90 1664.27,991.91 1665.60,991.92 C1666.93,991.94 1668.27,991.96 1669.60,991.98 C1670.93,992.01 1672.27,992.05 1673.60,992.09 C1674.93,992.13 1676.27,992.19 1677.60,992.25 C1678.93,992.32 1680.27,992.39 1681.60,992.48 C1682.93,992.57 1684.27,992.67 1685.60,992.79 C1686.93,992.91 1688.27,993.04 1689.60,993.18 C1690.93,993.33 1692.27,993.50 1693.60,993.68 C1694.93,993.86 1696.27,994.07 1697.60,994.28 C1698.93,994.50 1700.27,994.73 1701.60,994.97 C1702.93,995.22 1704.27,995.48 1705.60,995.74 C1706.93,996.01 1708.27,996.29 1709.60,996.57 C1710.93,996.86 1712.27,997.15 1713.60,997.45 C1714.93,997.75 1716.27,998.06 1717.60,998.36 C1718.93,998.67 1720.27,998.98 1721.60,999.29 C1722.93,999.60 1724.27,999.92 1725.60,1000.23 C1726.93,1000.54 1728.27,1000.85 1729.60,1001.15 C1730.93,1001.45 1732.27,1001.75 1733.60,1002.04 C1734.93,1002.34 1736.27,1002.62 1737.60,1002.90 C1738.93,1003.18 1740.27,1003.44 1741.60,1003.70 C1742.93,1003.96 1744.27,1004.20 1745.60,1004.43 C1746.93,1004.67 1748.27,1004.89 1749.60,1005.11 C1750.93,1005.33 1752.27,1005.54 1753.60,1005.75 C1754.93,1005.96 1756.27,1006.16 1757.60,1006.36 C1758.93,1006.57 1760.27,1006.77 1761.60,1006.97 C1762.93,1007.17 1764.27,1007.38 1765.60,1007.59 C1766.93,1007.80 1768.27,1008.01 1769.60,1008.23 C1770.93,1008.45 1772.27,1008.67 1773.60,1008.91 C1774.93,1009.15 1776.27,1009.40 1777.60,1009.65 C1778.93,1009.91 1780.27,1010.18 1781.60,1010.45 C1782.93,1010.72 1784.27,1011.01 1785.60,1011.29 C1786.93,1011.58 1788.27,1011.87 1789.60,1012.17 C1790.93,1012.46 1792.27,1012.77 1793.60,1013.07 C1794.93,1013.37 1796.27,1013.68 1797.60,1013.98 C1798.93,1014.29 1800.27,1014.59 1801.60,1014.90 C1802.93,1015.20 1804.27,1015.51 1805.60,1015.81 C1806.93,1016.10 1808.27,1016.40 1809.60,1016.69 C1810.93,1016.98 1812.27,1017.27 1813.60,1017.55 C1814.93,1017.83 1816.27,1018.10 1817.60,1018.37 C1818.93,1018.63 1820.27,1018.89 1821.60,1019.14 C1822.93,1019.39 1824.27,1019.63 1825.60,1019.86 C1826.93,1020.09 1828.27,1020.31 1829.60,1020.53 C1830.93,1020.74 1832.27,1020.95 1833.60,1021.14 C1834.93,1021.34 1836.27,1021.53 1837.60,1021.71 C1838.93,1021.89 1840.27,1022.06 1841.60,1022.22 C1842.93,1022.38 1844.27,1022.53 1845.60,1022.68 C1846.93,1022.82 1848.27,1022.95 1849.60,1023.08 C1850.93,1023.20 1852.27,1023.32 1853.60,1023.42 C1854.93,1023.53 1856.27,1023.62 1857.60,1023.71 C1858.93,1023.79 1860.27,1023.87 1861.60,1023.93 C1862.93,1024.00 1864.27,1024.06 1865.60,1024.10 C1866.93,1024.15 1868.27,1024.18 1869.60,1024.21 C1870.93,1024.24 1872.27,1024.25 1873.60,1024.26 C1874.93,1024.27 1876.27,1024.26 1877.60,1024.26 C1878.93,1024.25 1880.27,1024.24 1881.60,1024.22 C1882.93,1024.20 1884.27,1024.18 1885.60,1024.16 C1886.93,1024.13 1888.27,1024.11 1889.60,1024.08 C1890.93,1024.06 1892.27,1024.03 1893.60,1024.01 C1894.93,1023.99 1896.27,1023.97 1897.60,1023.95 C1898.93,1023.94 1900.27,1023.92 1901.60,1023.92 C1902.93,1023.91 1904.27,1023.91 1905.60,1023.92 C1906.93,1023.93 1908.27,1023.95 1909.60,1023.98 C1910.93,1024.01 1912.27,1024.04 1913.60,1024.09 C1914.93,1024.13 1916.27,1024.19 1917.60,1024.25 C1918.93,1024.31 1920.27,1024.38 1921.60,1024.46 C1922.93,1024.54 1924.27,1024.63 1925.60,1024.73 C1926.93,1024.82 1928.27,1024.93 1929.60,1025.04 C1930.93,1025.16 1932.27,1025.28 1933.60,1025.41 C1934.93,1025.53 1936.27,1025.67 1937.60,1025.82 C1938.93,1025.96 1940.27,1026.11 1941.60,1026.28 C1942.93,1026.44 1944.27,1026.60 1945.60,1026.78 C1946.93,1026.95 1948.27,1027.14 1949.60,1027.33 C1950.93,1027.52 1952.27,1027.72 1953.60,1027.92 C1954.93,1028.13 1956.27,1028.34 1957.60,1028.56 C1958.93,1028.78 1960.27,1029.00 1961.60,1029.24 C1962.93,1029.47 1964.27,1029.71 1965.60,1029.96 C1966.93,1030.20 1968.27,1030.46 1969.60,1030.72 C1970.93,1030.98 1972.27,1031.24 1973.60,1031.52 C1974.93,1031.79 1976.27,1032.07 1977.60,1032.35 C1978.93,1032.64 1980.27,1032.93 1981.60,1033.22 C1982.93,1033.52 1984.27,1033.82 1985.60,1034.12 C1986.93,1034.42 1988.27,1034.73 1989.60,1035.04 C1990.93,1035.36 1992.27,1035.67 1993.60,1035.99 C1994.93,1036.31 1996.27,1036.63 1997.60,1036.95 C1998.93,1037.27 2000.27,1037.60 2001.60,1037.92 C2002.93,1038.25 2004.27,1038.57 2005.60,1038.90 C2006.93,1039.23 2008.27,1039.56 2009.60,1039.89 C2010.93,1040.21 2012.27,1040.54 2013.60,1040.87 C2014.93,1041.19 2016.27,1041.52 2017.60,1041.84 C2018.93,1042.17 2020.27,1042.49 2021.60,1042.81 C2022.93,1043.13 2024.27,1043.45 2025.60,1043.77 C2026.93,1044.08 2028.27,1044.39 2029.60,1044.70 C2030.93,1045.01 2032.27,1045.32 2033.60,1045.62 C2034.93,1045.92 2036.27,1046.21 2037.60,1046.50 C2038.93,1046.79 2040.27,1047.08 2041.60,1047.36 C2042.93,1047.64 2044.27,1047.91 2045.60,1048.18 C2046.93,1048.45 2048.27,1048.71 2049.60,1048.96 C2050.93,1049.21 2052.27,1049.46 2053.60,1049.70 C2054.93,1049.93 2056.27,1050.16 2057.60,1050.39 C2058.93,1050.61 2060.27,1050.82 2061.60,1051.02 C2062.93,1051.23 2064.27,1051.42 2065.60,1051.60 C2066.93,1051.79 2068.27,1051.96 2069.60,1052.12 C2070.93,1052.28 2072.27,1052.44 2073.60,1052.58 C2074.93,1052.71 2076.27,1052.84 2077.60,1052.96 C2078.93,1053.07 2080.27,1053.18 2081.60,1053.27 C2082.93,1053.36 2084.27,1053.44 2085.60,1053.51 C2086.93,1053.58 2088.27,1053.63 2089.60,1053.68 C2090.93,1053.73 2092.27,1053.77 2093.60,1053.80 C2094.93,1053.83 2096.27,1053.85 2097.60,1053.87 C2098.93,1053.89 2100.27,1053.90 2101.60,1053.90 C2102.93,1053.91 2104.27,1053.91 2105.60,1053.91 C2106.93,1053.91 2108.27,1053.90 2109.60,1053.89 C2110.93,1053.88 2112.27,1053.87 2113.60,1053.86 C2114.93,1053.85 2116.27,1053.84 2117.60,1053.83 C2118.93,1053.82 2120.27,1053.81 2121.60,1053.81 C2122.93,1053.80 2124.27,1053.79 2125.60,1053.79 C2126.93,1053.79 2128.27,1053.80 2129.60,1053.80 C2130.93,1053.81 2132.27,1053.83 2133.60,1053.85 C2134.93,1053.87 2136.27,1053.89 2137.60,1053.93 C2138.93,1053.96 2140.27,1054.01 2141.60,1054.06 C2142.93,1054.11 2144.27,1054.17 2145.60,1054.24 C2146.93,1054.30 2148.27,1054.38 2149.60,1054.46 C2150.93,1054.54 2152.27,1054.63 2153.60,1054.72 C2154.93,1054.81 2156.27,1054.92 2157.60,1055.02 C2158.93,1055.13 2160.27,1055.25 2161.60,1055.37 C2162.93,1055.49 2164.27,1055.61 2165.60,1055.74 C2166.93,1055.88 2168.27,1056.01 2169.60,1056.16 C2170.93,1056.30 2172.27,1056.45 2173.60,1056.60 C2174.93,1056.76 2176.27,1056.92 2177.60,1057.08 C2178.93,1057.24 2180.27,1057.41 2181.60,1057.58 C2182.93,1057.75 2184.27,1057.93 2185.60,1058.11 C2186.93,1058.29 2188.27,1058.48 2189.60,1058.67 C2190.93,1058.86 2192.27,1059.05 2193.60,1059.25 C2194.93,1059.45 2196.27,1059.65 2197.60,1059.85 C2198.93,1060.06 2200.27,1060.27 2201.60,1060.48 C2202.93,1060.69 2204.27,1060.90 2205.60,1061.12 C2206.93,1061.34 2208.27,1061.56 2209.60,1061.78 C2210.93,1062.01 2212.27,1062.23 2213.60,1062.46 C2214.93,1062.69 2216.27,1062.92 2217.60,1063.16 C2218.93,1063.39 2220.27,1063.63 2221.60,1063.87 C2222.93,1064.10 2224.27,1064.34 2225.60,1064.59 C2226.93,1064.83 2228.27,1065.07 2229.60,1065.32 C2230.93,1065.57 2232.27,1065.81 2233.60,1066.06 C2234.93,1066.31 2236.27,1066.56 2237.60,1066.82 C2238.93,1067.07 2240.27,1067.32 2241.60,1067.58 C2242.93,1067.83 2244.27,1068.08 2245.60,1068.34 C2246.93,1068.60 2248.27,1068.85 2249.60,1069.11 C2250.93,1069.37 2252.27,1069.62 2253.60,1069.88 C2254.93,1070.14 2256.27,1070.40 2257.60,1070.66 C2258.93,1070.91 2260.27,1071.17 2261.60,1071.43 C2262.93,1071.69 2264.27,1071.95 2265.60,1072.20 C2266.93,1072.46 2268.27,1072.72 2269.60,1072.97 C2270.93,1073.23 2272.27,1073.49 2273.60,1073.74 C2274.93,1073.99 2276.27,1074.25 2277.60,1074.50 C2278.93,1074.75 2280.27,1075.01 2281.60,1075.26 C2282.93,1075.51 2284.27,1075.75 2285.60,1076.00 C2286.93,1076.25 2288.27,1076.49 2289.60,1076.74 C2290.93,1076.98 2292.27,1077.22 2293.60,1077.46 C2294.93,1077.70 2296.27,1077.94 2297.60,1078.18 C2298.93,1078.41 2300.27,1078.65 2301.60,1078.88 C2302.93,1079.11 2304.27,1079.34 2305.60,1079.56 C2306.93,1079.79 2308.27,1080.01 2309.60,1080.23 C2310.93,1080.45 2312.27,1080.67 2313.60,1080.88 C2314.93,1081.09 2316.55,1081.35 2317.60,1081.51 C2318.29,1081.62 2318.73,1081.68 2319.30,1081.77" fill="none" stroke="#B2182B" stroke-width="4.5" stroke-linejoin="round"/>
<line x1="390.97" y1="460.80" x2="390.97" y2="670.50" stroke="#B2182B" stroke-width="4.4"/>
<line x1="379.22" y1="460.80" x2="402.72" y2="460.80" stroke="#B2182B" stroke-width="3"/>
<line x1="379.22" y1="670.50" x2="402.72" y2="670.50" stroke="#B2182B" stroke-width="3"/>
<line x1="401.12" y1="462.00" x2="401.12" y2="555.50" stroke="#B2182B" stroke-width="4.4"/>
<line x1="389.37" y1="462.00" x2="412.87" y2="462.00" stroke="#B2182B" stroke-width="3"/>
<line x1="389.37" y1="555.50" x2="412.87" y2="555.50" stroke="#B2182B" stroke-width="3"/>
<line x1="411.27" y1="474.00" x2="411.27" y2="538.00" stroke="#B2182B" stroke-width="4.4"/>
<line x1="399.52" y1="474.00" x2="423.02" y2="474.00" stroke="#B2182B" stroke-width="3"/>
<line x1="399.52" y1="538.00" x2="423.02" y2="538.00" stroke="#B2182B" stroke-width="3"/>
<line x1="431.57" y1="512.80" x2="431.57" y2="576.60" stroke="#B2182B" stroke-width="4.4"/>
<line x1="419.82" y1="512.80" x2="443.32" y2="512.80" stroke="#B2182B" stroke-width="3"/>
<line x1="419.82" y1="576.60" x2="443.32" y2="576.60" stroke="#B2182B" stroke-width="3"/>
<line x1="451.87" y1="532.60" x2="451.87" y2="599.00" stroke="#B2182B" stroke-width="4.4"/>
<line x1="440.12" y1="532.60" x2="463.62" y2="532.60" stroke="#B2182B" stroke-width="3"/>
<line x1="440.12" y1="599.00" x2="463.62" y2="599.00" stroke="#B2182B" stroke-width="3"/>
<line x1="533.07" y1="612.50" x2="533.07" y2="698.60" stroke="#B2182B" stroke-width="4.4"/>
<line x1="521.32" y1="612.50" x2="544.82" y2="612.50" stroke="#B2182B" stroke-width="3"/>
<line x1="521.32" y1="698.60" x2="544.82" y2="698.60" stroke="#B2182B" stroke-width="3"/>
<line x1="695.47" y1="724.20" x2="695.47" y2="853.30" stroke="#B2182B" stroke-width="4.4"/>
<line x1="683.72" y1="724.20" x2="707.22" y2="724.20" stroke="#B2182B" stroke-width="3"/>
<line x1="683.72" y1="853.30" x2="707.22" y2="853.30" stroke="#B2182B" stroke-width="3"/>
<line x1="857.87" y1="765.20" x2="857.87" y2="944.50" stroke="#B2182B" stroke-width="4.4"/>
<line x1="846.12" y1="765.20" x2="869.62" y2="765.20" stroke="#B2182B" stroke-width="3"/>
<line x1="846.12" y1="944.50" x2="869.62" y2="944.50" stroke="#B2182B" stroke-width="3"/>
<rect x="379.47" y="518.00" width="23" height="23" fill="#B2182B"/>
<rect x="389.62" y="489.10" width="23" height="23" fill="#B2182B"/>
<rect x="399.77" y="492.70" width="23" height="23" fill="#B2182B"/>
<rect x="420.07" y="529.50" width="23" height="23" fill="#B2182B"/>
<rect x="440.37" y="550.40" width="23" height="23" fill="#B2182B"/>
<rect x="521.57" y="637.50" width="23" height="23" fill="#B2182B"/>
<rect x="683.97" y="762.80" width="23" height="23" fill="#B2182B"/>
<rect x="846.37" y="816.40" width="23" height="23" fill="#B2182B"/>
</g>
</svg></body></html>
